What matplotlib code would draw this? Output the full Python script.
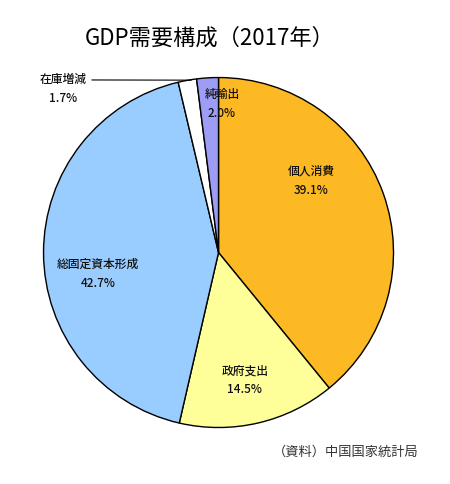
import matplotlib
matplotlib.use("Agg")
import matplotlib.pyplot as plt

plt.rcParams['font.family'] = ['Noto Sans CJK JP', 'DejaVu Sans']

categories = ["個人消費", "政府支出", "総固定資本形成", "在庫増減", "純輸出"]
values = [39.1, 14.5, 42.7, 1.7, 2.0]
colors = ["#FDB924", "#FFFF99", "#99CCFF", "#FFFFFF", "#9D9DF5"]
title = "GDP需要構成（2017年）"
source = "（資料）中国国家統計局"

fig = plt.figure(figsize=(4.5, 4.84), dpi=100)
ax = fig.add_axes([0.0967, 0.1167, 0.7778, 0.7231])
wedges, _ = ax.pie(values, colors=colors, startangle=90, counterclock=False,
                   wedgeprops=dict(edgecolor="black", linewidth=1.0))
ax.set_xlim(-1, 1)
ax.set_ylim(-1, 1)
ax.set_aspect("equal")

label_pos = {
    "個人消費": (0.53, 0.41),
    "政府支出": (0.15, -0.73),
    "総固定資本形成": (-0.69, -0.12),
    "純輸出": (0.02, 0.85),
}
for cat, val in zip(categories, values):
    if cat in label_pos:
        x, y = label_pos[cat]
        ax.text(x, y, f"{cat}\n{val:.1f}%", ha="center", va="center",
                fontsize=8.5, linespacing=1.6, color="#111111",
                fontweight="medium")

# 在庫増減 label with leader line
i = categories.index("在庫増減")
ax.annotate(f"{categories[i]}\n{values[i]:.1f}%", xy=(-0.14, 0.985),
            xytext=(-0.89, 0.935), ha="center", va="center",
            fontsize=8.5, linespacing=1.6, color="#111111",
            fontweight="medium",
            arrowprops=dict(arrowstyle="-", color="black", lw=0.8,
                            relpos=(1.0, 0.78)),
            annotation_clip=False)

fig.text(0.467, 0.921, title, ha="center", va="center", fontsize=16)
fig.text(0.93, 0.066, source, ha="right", va="center", fontsize=9.5, color="#333333")

fig.savefig("out.png", dpi=100)
